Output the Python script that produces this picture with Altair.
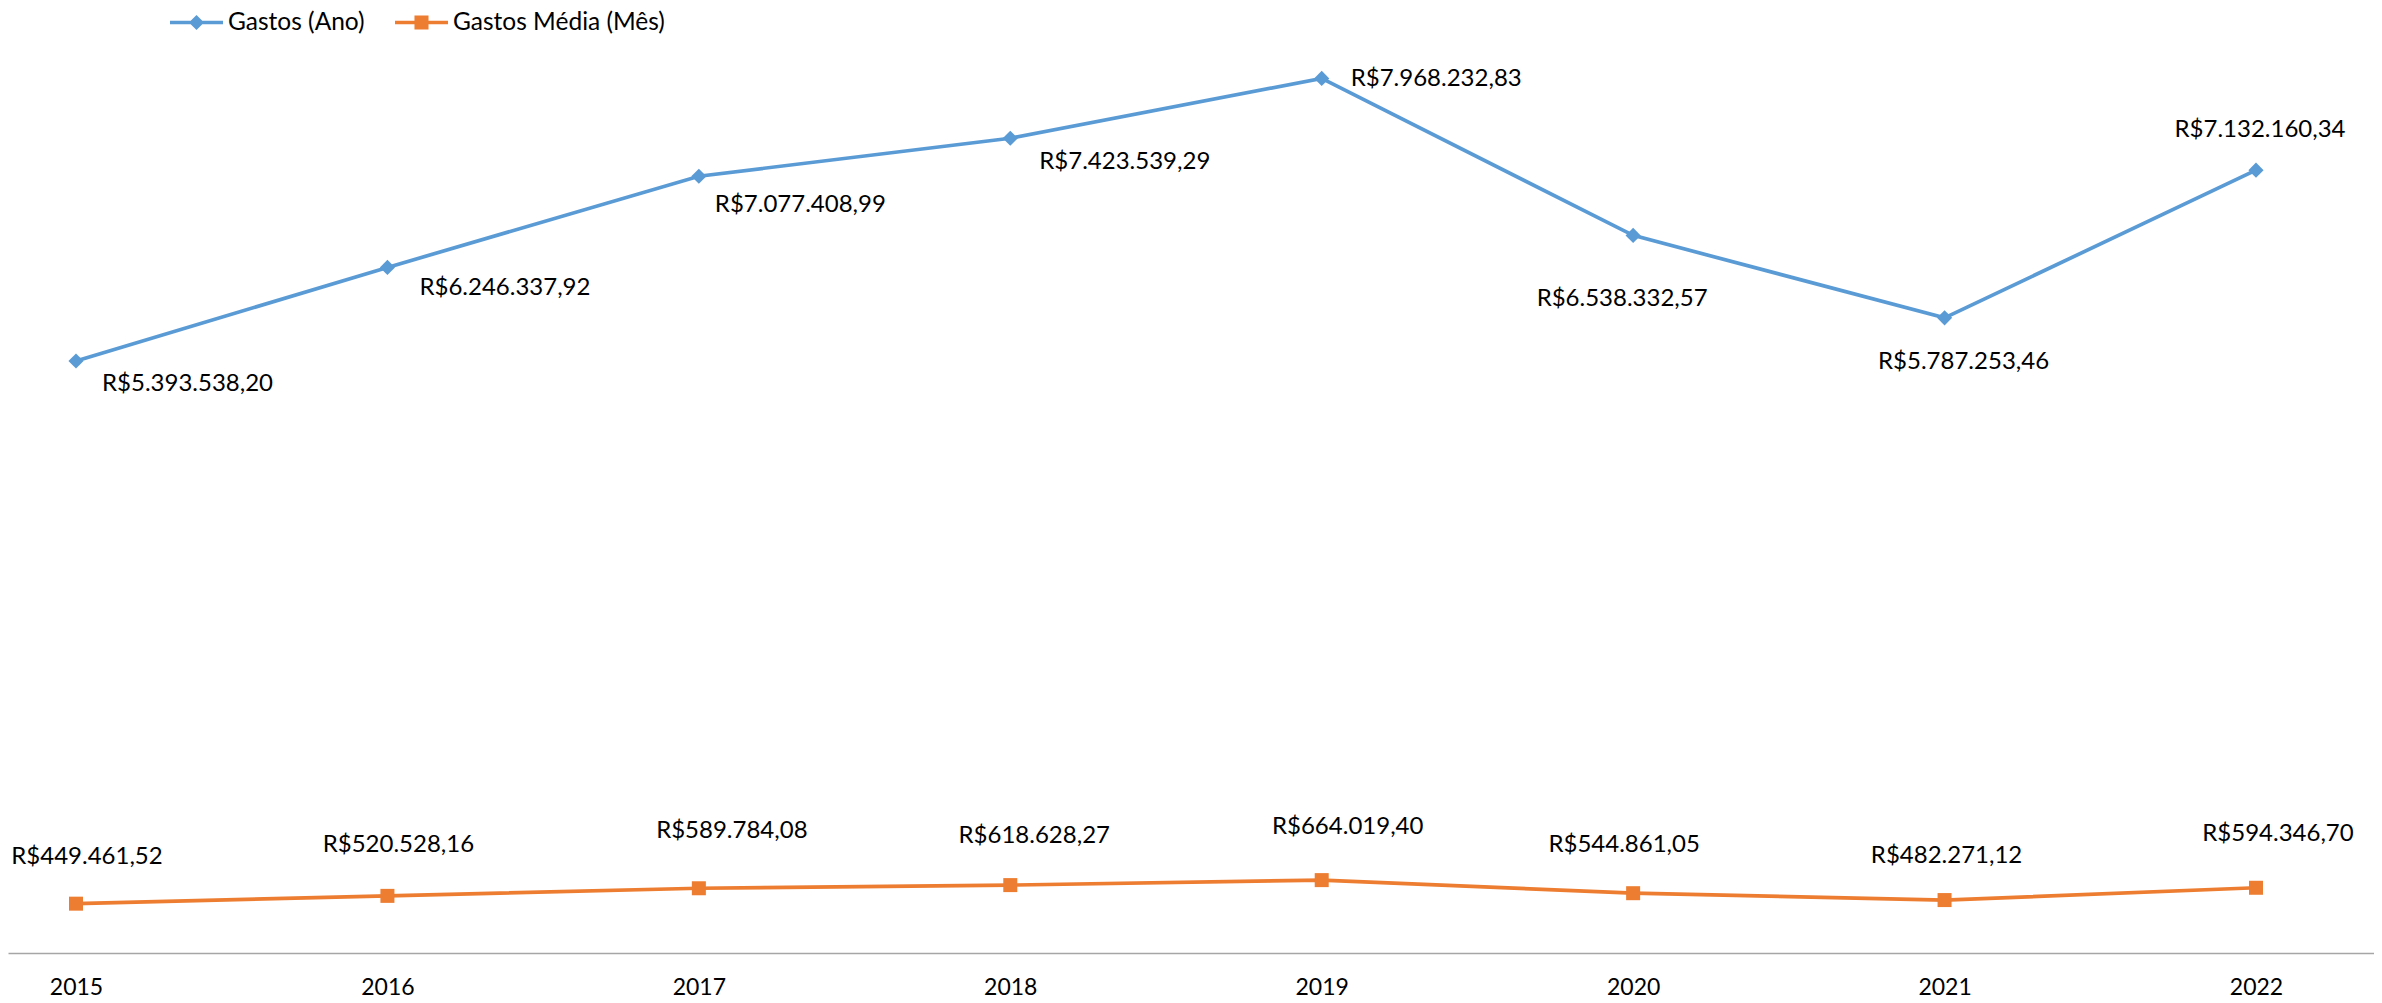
import altair as alt
import pandas as pd

# ---- data ----
anos = [2015, 2016, 2017, 2018, 2019, 2020, 2021, 2022]
gastos_ano = [5393538.20, 6246337.92, 7077408.99, 7423539.29,
              7968232.83, 6538332.57, 5787253.46, 7132160.34]
gastos_media_mes = [449461.52, 520528.16, 589784.08, 618628.27,
                    664019.40, 544861.05, 482271.12, 594346.70]
series = ["Gastos (Ano)", "Gastos Média (Mês)"]
colors = ["#5B9BD5", "#ED7D31"]


def brl(v):
    s = f"{v:,.2f}"
    s = s.replace(",", "X").replace(".", ",").replace("X", ".")
    return "R$" + s


rows = []
for name, vals in zip(series, [gastos_ano, gastos_media_mes]):
    for a, v in zip(anos, vals):
        rows.append({"ano": a, "serie": name, "valor": v, "rotulo": brl(v)})
df = pd.DataFrame(rows)

# ---- layout ----
W, H = 2366, 945
first_px, last_px = 68, 2248
step = (last_px - first_px) / (anos[-1] - anos[0])
x_dom = [anos[0] - first_px / step, anos[0] + (W - first_px) / step]
y_dom = [0, 8.61e6]

FONT = "Lato"

x_enc = alt.X(
    "ano:Q",
    scale=alt.Scale(domain=x_dom, nice=False, zero=False),
    axis=alt.Axis(
        values=anos, format="d", title=None, grid=False, ticks=False, tickSize=0,
        domainColor="#A6A6A6", domainWidth=1.5,
        labelFont=FONT, labelFontSize=23, labelColor="#000000", labelPadding=23,
    ),
)
y_scale = alt.Scale(domain=y_dom, nice=False)
y_enc = alt.Y("valor:Q", scale=y_scale, axis=None)

base = alt.Chart(df)

series_layers = []
for name, col, shp, sz in zip(series, colors, ["diamond", "square"], [230, 196]):
    sub = base.transform_filter(alt.datum.serie == name)
    series_layers.append(sub.mark_line(strokeWidth=3.7, color=col).encode(x=x_enc, y=y_enc))
    series_layers.append(
        sub.mark_point(shape=shp, filled=True, size=sz, color=col, opacity=1).encode(x=x_enc, y=y_enc)
    )

# legend-only layer: its marks sit far outside the clipped view, only the legend shows
leg_paths = [
    "M-2,-0.14H2V0.14H-2Z M0,-0.57L0.57,0L0,0.57L-0.57,0Z",
    "M-2,-0.14H2V0.14H-2Z M-0.53,-0.53H0.53V0.53H-0.53Z",
]
legend_layer = base.transform_calculate(oculto="-1e9").mark_point(
    filled=True, clip=True
).encode(
    x=x_enc, y=alt.Y("oculto:Q", scale=y_scale, axis=None),
    color=alt.Color("serie:N", scale=alt.Scale(domain=series, range=colors),
                    legend=alt.Legend(title=None)),
    shape=alt.Shape("serie:N", scale=alt.Scale(domain=series, range=leg_paths),
                    legend=alt.Legend(title=None)),
)

# label placements (Excel-style manual label positions)
blue_place = {
    2015: ("left", 26, 23), 2016: ("left", 32, 21), 2017: ("left", 16, 29),
    2018: ("left", 29, 24), 2019: ("left", 29, 1), 2020: ("center", -11, 64),
    2021: ("center", 19, 44), 2022: ("center", 4, -40),
}
orange_place = {
    2015: ("center", 11, -47), 2016: ("center", 11, -51), 2017: ("center", 33, -57),
    2018: ("center", 24, -49), 2019: ("center", 26, -53), 2020: ("center", -9, -48),
    2021: ("center", 2, -44), 2022: ("center", 22, -54),
}

label_layers = []
for name, place in zip(series, [blue_place, orange_place]):
    for a in anos:
        al, dx, dy = place[a]
        label_layers.append(
            base.transform_filter(
                (alt.datum.serie == name) & (alt.datum.ano == a)
            ).mark_text(
                align=al, baseline="middle", dx=dx, dy=dy,
                font=FONT, fontSize=24, color="#000000",
            ).encode(x=x_enc, y=y_enc, text="rotulo:N")
        )

chart = alt.layer(legend_layer, *series_layers, *label_layers).properties(
    width=W, height=H,
    autosize=alt.AutoSizeParams(type="none"),
    padding={"left": 0, "top": 0, "right": 0, "bottom": 50},
).configure_view(stroke=None).configure_legend(
    orient="none", legendX=175, legendY=1, direction="horizontal",
    symbolSize=702, symbolStrokeWidth=0, symbolOpacity=1,
    labelFont=FONT, labelFontSize=24.5,
    labelColor="#000000", labelOffset=18, columnPadding=30, padding=0,
    labelLimit=400,
)

chart.save("out.html", embed_options={"renderer": "svg", "actions": False})
